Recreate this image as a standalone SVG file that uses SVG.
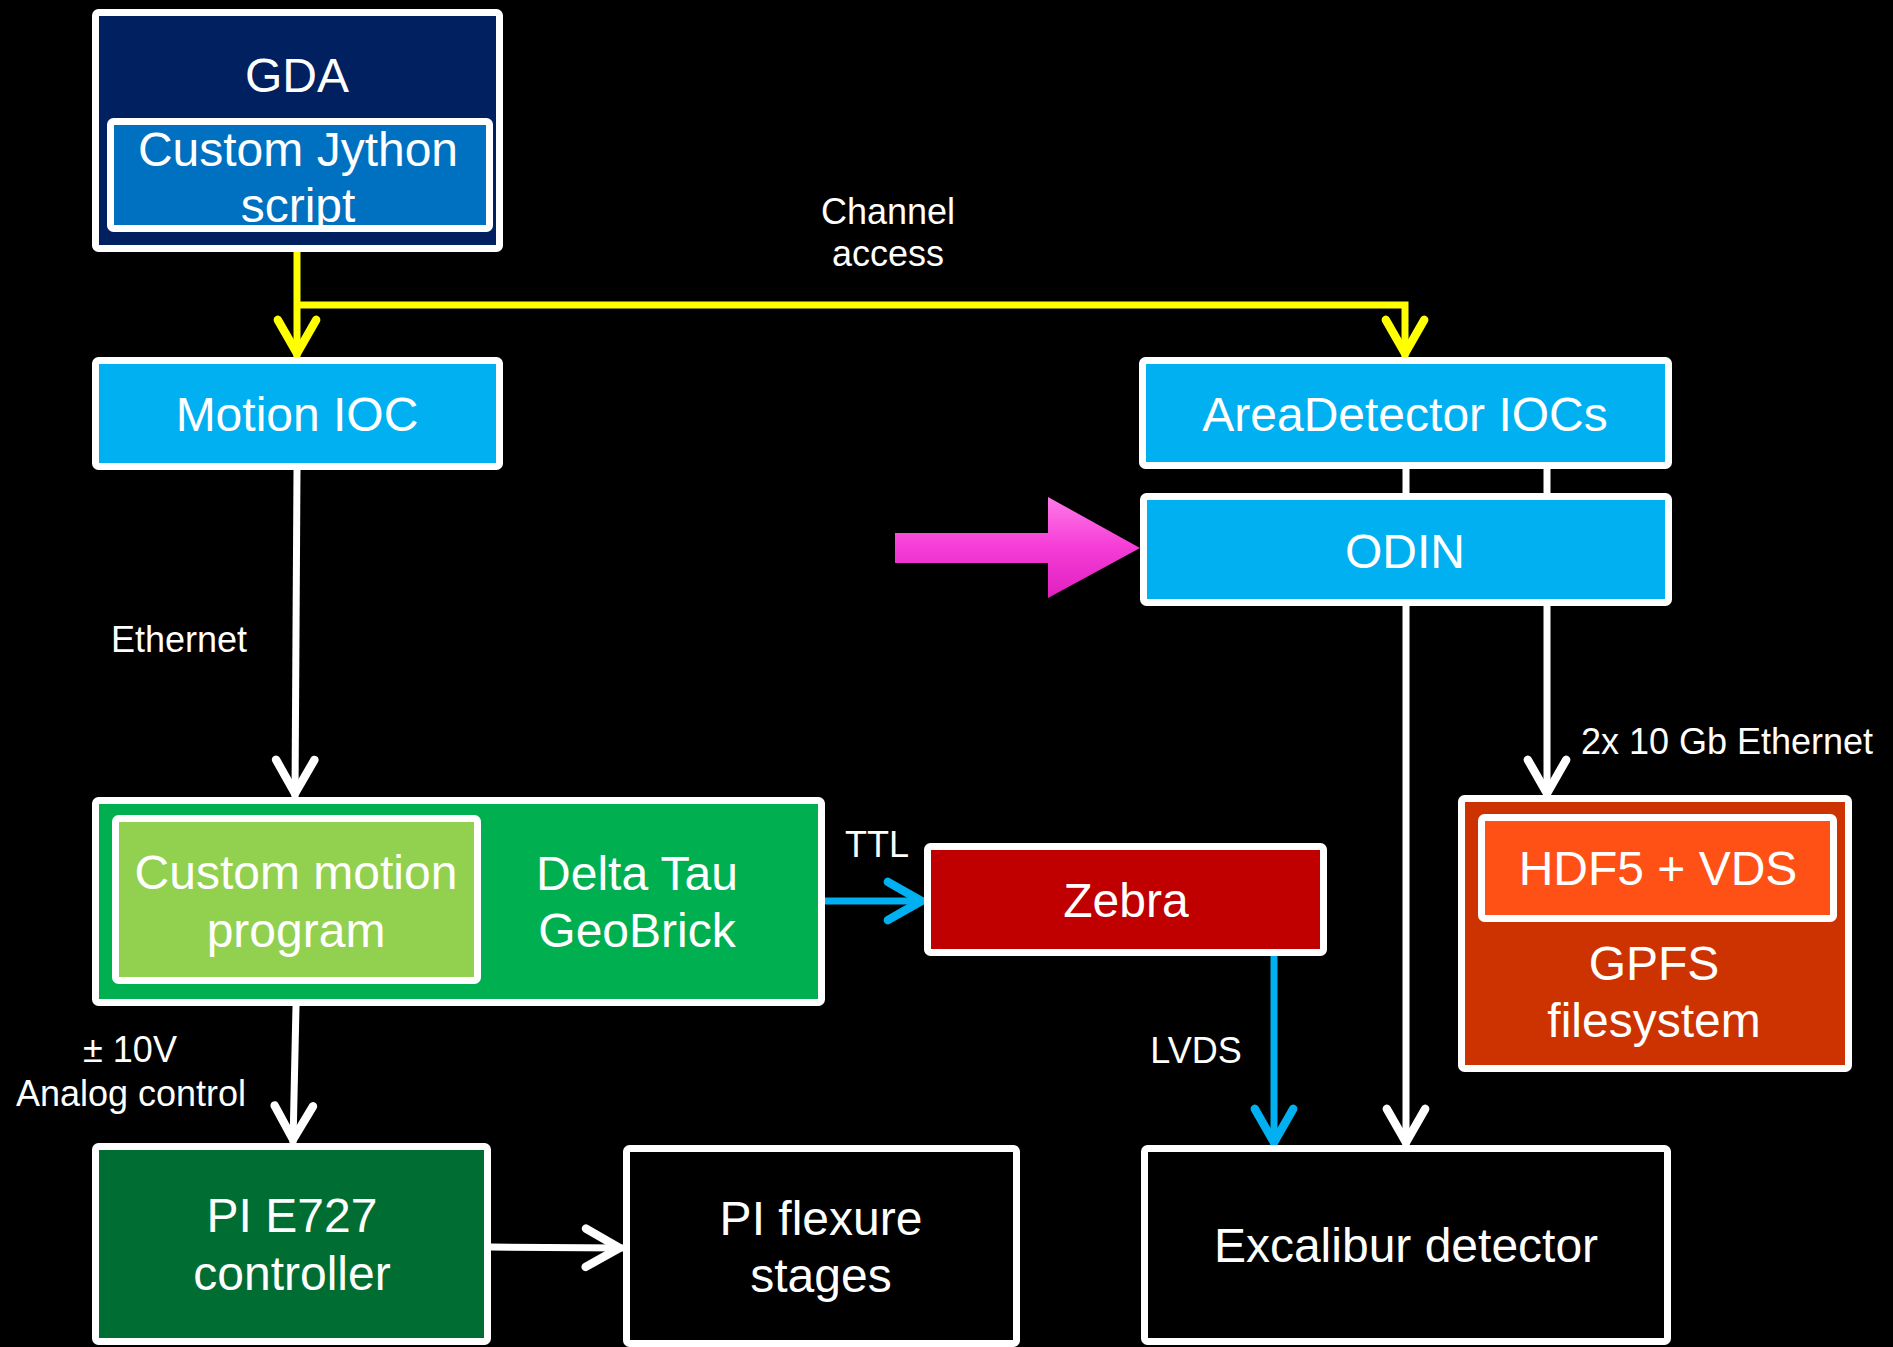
<svg xmlns="http://www.w3.org/2000/svg" width="1893" height="1347" viewBox="0 0 1893 1347">
<style>
.box{stroke:#fff;stroke-width:7}
.t{font-family:"Liberation Sans",Arial,sans-serif;font-size:48px;fill:#fff;text-anchor:middle}
.l{font-family:"Liberation Sans",Arial,sans-serif;font-size:36px;fill:#fff;text-anchor:middle}
.cw{fill:none;stroke:#fff;stroke-width:7}
.cy{fill:none;stroke:#FFFF00;stroke-width:7}
.cb{fill:none;stroke:#00B0F0;stroke-width:7}
</style>
<defs>
<marker id="aw" markerUnits="userSpaceOnUse" markerWidth="60" markerHeight="60" viewBox="-40 -25 50 50" refX="0" refY="0" orient="auto" overflow="visible">
<path d="M-31,-16 L-3,0 L-31,16" fill="none" stroke="#fff" stroke-width="7" stroke-linecap="round" stroke-linejoin="round"/>
</marker>
<marker id="ay" markerUnits="userSpaceOnUse" markerWidth="60" markerHeight="60" viewBox="-40 -25 50 50" refX="0" refY="0" orient="auto" overflow="visible">
<path d="M-31,-16 L-3,0 L-31,16" fill="none" stroke="#FFFF00" stroke-width="7" stroke-linecap="round" stroke-linejoin="round"/>
</marker>
<marker id="ab" markerUnits="userSpaceOnUse" markerWidth="60" markerHeight="60" viewBox="-40 -25 50 50" refX="0" refY="0" orient="auto" overflow="visible">
<path d="M-31,-16 L-3,0 L-31,16" fill="none" stroke="#00B0F0" stroke-width="7" stroke-linecap="round" stroke-linejoin="round"/>
</marker>
<linearGradient id="pink" x1="0" y1="0" x2="0" y2="1">
<stop offset="0" stop-color="#FF7AE8"/>
<stop offset="0.5" stop-color="#F53CD6"/>
<stop offset="1" stop-color="#E020C0"/>
</linearGradient>
</defs>
<rect width="1893" height="1347" fill="#000"/>

<g id="connectors">
<path class="cy" d="M297,252 V357" marker-end="url(#ay)"/>
<path class="cy" d="M297,305 H1405 V357" marker-end="url(#ay)"/>
<path class="cw" d="M297,470 L295,797" marker-end="url(#aw)"/>
<path class="cw" d="M296,1006 L293,1143" marker-end="url(#aw)"/>
<path class="cw" d="M491,1247 L623,1248" marker-end="url(#aw)"/>
<path class="cb" d="M825,901 L925,901" marker-end="url(#ab)"/>
<path class="cb" d="M1274,956 V1146" marker-end="url(#ab)"/>
<path class="cw" d="M1406,469 V493 M1547,469 V493"/>
<path class="cw" d="M1406,606 V1146" marker-end="url(#aw)"/>
<path class="cw" d="M1547,606 V797" marker-end="url(#aw)"/>
</g>

<g id="labels">
<text class="l" x="888" y="224">Channel</text>
<text class="l" x="888" y="266">access</text>
<text class="l" x="179" y="652">Ethernet</text>
<text class="l" x="1727" y="754">2x 10 Gb Ethernet</text>
<text class="l" x="877" y="857">TTL</text>
<text class="l" x="1196" y="1063">LVDS</text>
<text class="l" x="130" y="1062">± 10V</text>
<text class="l" x="131" y="1106">Analog control</text>
</g>

<g id="pink-arrow">
<polygon points="895,533 1048,533 1048,497 1140,548 1048,598 1048,563 895,563" fill="url(#pink)"/>
</g>

<g id="gda">
<rect class="box" x="95.5" y="12.5" width="404" height="236" rx="3" fill="#002060"/>
<text class="t" x="297" y="92">GDA</text>
</g>
<g id="jython">
<rect x="110.5" y="121.5" width="379" height="107" fill="#0070C0"/>
<text class="t" x="298" y="166">Custom Jython</text>
<text class="t" x="298" y="222">script</text>
<rect class="box" x="110.5" y="121.5" width="379" height="107" rx="3" fill="none"/>
</g>

<g id="motion-ioc">
<rect class="box" x="95.5" y="360.5" width="404" height="106" rx="3" fill="#00B0F0"/>
<text class="t" x="297" y="431">Motion IOC</text>
</g>

<g id="areadetector">
<rect class="box" x="1142.5" y="360.5" width="526" height="105" rx="3" fill="#00B0F0"/>
<text class="t" x="1405" y="431">AreaDetector IOCs</text>
</g>

<g id="odin">
<rect class="box" x="1143.5" y="496.5" width="525" height="106" rx="3" fill="#00B0F0"/>
<text class="t" x="1405" y="568">ODIN</text>
</g>

<g id="geobrick">
<rect class="box" x="95.5" y="800.5" width="726" height="202" rx="3" fill="#00B050"/>
<text class="t" x="637" y="890">Delta Tau</text>
<text class="t" x="637" y="947">GeoBrick</text>
</g>
<g id="motion-program">
<rect class="box" x="115.5" y="818.5" width="362" height="162" rx="3" fill="#92D050"/>
<text class="t" x="296" y="889">Custom motion</text>
<text class="t" x="296" y="947">program</text>
</g>

<g id="zebra">
<rect class="box" x="927.5" y="846.5" width="396" height="106" rx="3" fill="#C00000"/>
<text class="t" x="1126" y="917">Zebra</text>
</g>

<g id="gpfs">
<rect class="box" x="1461.5" y="798.5" width="387" height="270" rx="3" fill="#CC3300"/>
<text class="t" x="1654" y="980">GPFS</text>
<text class="t" x="1654" y="1037">filesystem</text>
</g>
<g id="hdf5">
<rect class="box" x="1481.5" y="817.5" width="352" height="101" rx="3" fill="#FF5015"/>
<text class="t" x="1658" y="885">HDF5 + VDS</text>
</g>

<g id="pi-e727">
<rect class="box" x="95.5" y="1146.5" width="392" height="195" rx="3" fill="#006E33"/>
<text class="t" x="292" y="1232">PI E727</text>
<text class="t" x="292" y="1290">controller</text>
</g>

<g id="pi-flexure">
<rect class="box" x="626.5" y="1148.5" width="390" height="195" rx="3" fill="#000"/>
<text class="t" x="821" y="1235">PI flexure</text>
<text class="t" x="821" y="1292">stages</text>
</g>

<g id="excalibur">
<rect class="box" x="1144.5" y="1148.5" width="523" height="193" rx="3" fill="#000"/>
<text class="t" x="1406" y="1262">Excalibur detector</text>
</g>
</svg>
